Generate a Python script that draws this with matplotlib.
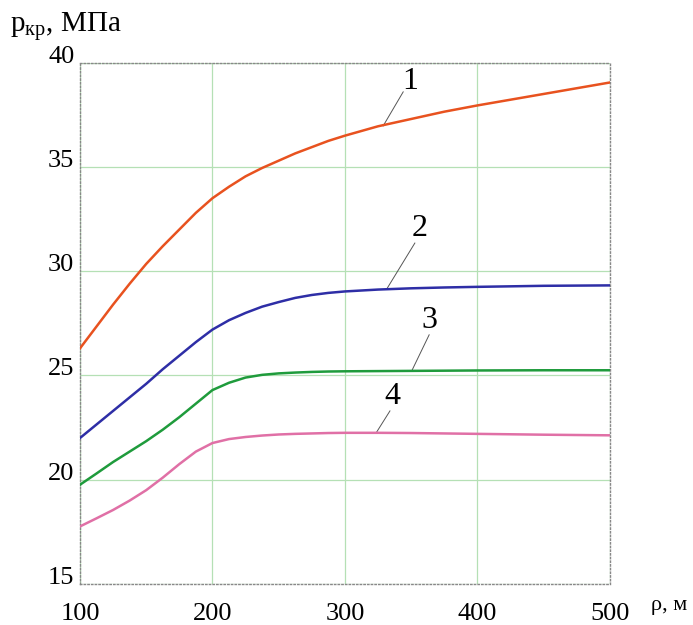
import matplotlib.pyplot as plt
import numpy as np

plt.rcParams['font.family'] = ['Liberation Serif', 'DejaVu Serif']
plt.rcParams['mathtext.fontset'] = 'custom'
plt.rcParams['mathtext.rm'] = 'Liberation Serif'
plt.rcParams['mathtext.it'] = 'Liberation Serif:italic'

# Радиус (м) и критическое давление (МПа) для четырёх кривых
rho = [100, 112.5, 125, 137.5, 150, 162.5, 175, 187.5, 200, 212.5, 225, 237.5,
       250, 262.5, 275, 287.5, 300, 325, 350, 375, 400, 450, 500]
p1 = [26.3, 27.35, 28.4, 29.4, 30.35, 31.2, 32.0, 32.8, 33.5, 34.05, 34.55, 34.95,
      35.3, 35.65, 35.95, 36.25, 36.5, 36.95, 37.3, 37.65, 37.95, 38.5, 39.05]
p2 = [22.0, 22.65, 23.3, 23.95, 24.6, 25.3, 25.95, 26.6, 27.2, 27.65, 28.0, 28.3,
      28.52, 28.72, 28.86, 28.96, 29.03, 29.12, 29.18, 29.22, 29.25, 29.3, 29.32]
p3 = [19.76, 20.3, 20.85, 21.35, 21.85, 22.4, 23.0, 23.65, 24.3, 24.65, 24.9, 25.03,
      25.1, 25.14, 25.17, 25.19, 25.2, 25.21, 25.22, 25.23, 25.24, 25.25, 25.25]
p4 = [17.76, 18.15, 18.55, 19.0, 19.5, 20.1, 20.75, 21.35, 21.76, 21.95, 22.05, 22.12,
      22.17, 22.2, 22.22, 22.24, 22.25, 22.25, 22.24, 22.22, 22.2, 22.16, 22.13]

xticks = [100, 200, 300, 400, 500]
yticks = [15, 20, 25, 30, 35, 40]

curves = [p1, p2, p3, p4]
colors = ['#e8521f', '#2e2ea6', '#1f9b3c', '#e070a6']
labels = ['1', '2', '3', '4']
# подписи: (текст x, y), (начало выноски), (конец выноски на кривой)
label_pos = [(349, 39.1), (356.6, 32.05), (364, 27.65), (336, 24.0)]
leader_from = [(344, 38.6), (352.8, 31.35), (363.6, 26.95), (334, 23.3)]
leader_to = [(328.9, 36.97), (331.9, 29.18), (350.3, 25.2), (323.4, 22.23)]

fig = plt.figure(figsize=(6.93, 6.25), dpi=100)
ax = fig.add_axes([0.1154, 0.0656, 0.7646, 0.8341])

for y, c in zip(curves, colors):
    ax.plot(rho, y, color=c, linewidth=1.8, zorder=3)

for lab, tp, lf, lt in zip(labels, label_pos, leader_from, leader_to):
    ax.plot([lf[0], lt[0]], [lf[1], lt[1]], color='#555555', linewidth=0.7, zorder=2)
    ax.text(tp[0], tp[1], lab, fontsize=23, ha='center', va='center')

ax.set_xlim(100, 500)
ax.set_ylim(15, 40)
ax.set_xticks(xticks)
ax.set_yticks(yticks)
ax.set_xticklabels([str(v) for v in xticks], fontsize=19)
ax.set_yticklabels([str(v) for v in yticks], fontsize=19)
for t in ax.get_yticklabels():
    t.set_va('baseline')
ax.grid(True, color='#b5e0b5', linewidth=0.9)
ax.tick_params(length=0)
ax.tick_params(axis='x', pad=14)
ax.tick_params(axis='y', pad=4)
for s in ax.spines.values():
    s.set_color('#888888')
    s.set_linestyle(':')
    s.set_linewidth(1.0)

fig.text(0.015, 0.958, r'p$_{\rm кр}$, МПа', fontsize=21, ha='left', va='center')
fig.text(0.965, 0.031, 'ρ, м', fontsize=16, ha='center', va='center')

fig.savefig('out.png', dpi=100)
